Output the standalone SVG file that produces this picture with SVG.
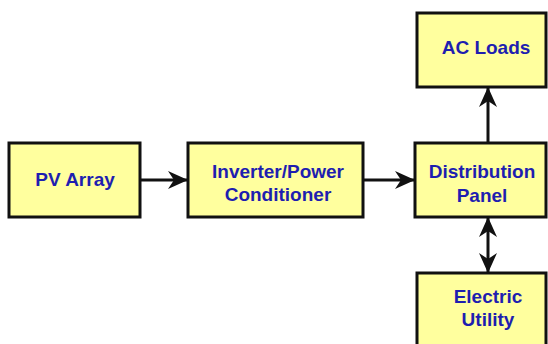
<svg xmlns="http://www.w3.org/2000/svg" width="548" height="344" viewBox="0 0 548 344">
<style>
.box{fill:#ffff9e;stroke:#111;stroke-width:3}
.t{font-family:"Liberation Sans",Arial,sans-serif;font-weight:bold;font-size:19px;fill:#1e1eb0;text-anchor:middle}
.c{stroke:#111;stroke-width:3;fill:none}
</style>
<defs>
<marker id="ah" viewBox="0 0 20 20" refX="19" refY="10" markerWidth="20" markerHeight="20" markerUnits="userSpaceOnUse" orient="auto-start-reverse">
<path d="M0,1 L20,10 L0,19 L6,10 Z" fill="#111"/>
</marker>
</defs>
<rect width="548" height="344" fill="#fff"/>
<g id="pv"><rect class="box" x="9" y="143" width="131" height="74"/><text class="t" x="75" y="186">PV Array</text></g>
<g id="inverter"><rect class="box" x="188" y="143" width="175" height="74"/><text class="t" x="278" y="178">Inverter/Power</text><text class="t" x="278" y="201">Conditioner</text></g>
<g id="distribution"><rect class="box" x="415" y="143" width="131" height="74"/><text class="t" x="482" y="178">Distribution</text><text class="t" x="482" y="202">Panel</text></g>
<g id="acloads"><rect class="box" x="417" y="13" width="129" height="74"/><text class="t" x="486" y="54">AC Loads</text></g>
<g id="utility"><rect class="box" x="417" y="273" width="129" height="80"/><text class="t" x="488" y="303">Electric</text><text class="t" x="488" y="326">Utility</text></g>
<g id="connectors">
<line class="c" x1="141" y1="180" x2="187" y2="180" marker-end="url(#ah)"/>
<line class="c" x1="364" y1="180" x2="414" y2="180" marker-end="url(#ah)"/>
<line class="c" x1="488" y1="142" x2="488" y2="88" marker-end="url(#ah)"/>
<line class="c" x1="488" y1="218" x2="488" y2="272" marker-start="url(#ah)" marker-end="url(#ah)"/>
</g>
</svg>
